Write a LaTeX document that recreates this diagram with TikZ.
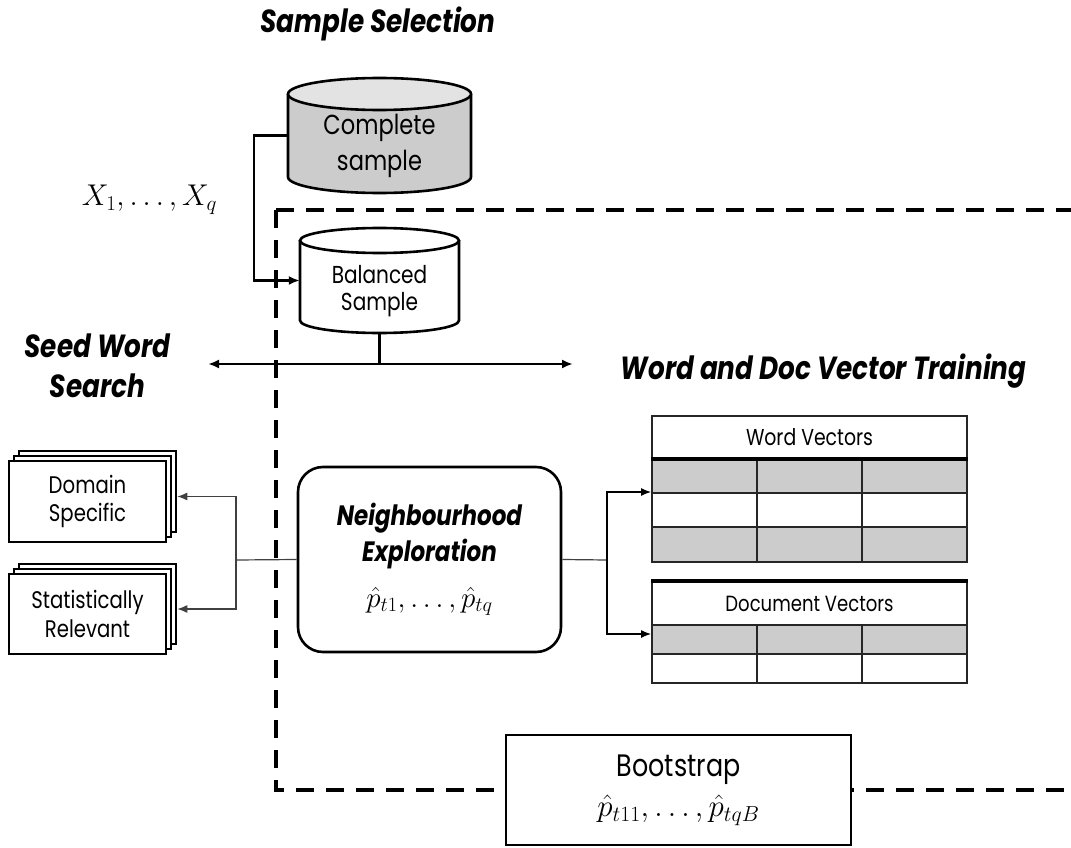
\RequirePackage{fix-cm}
\documentclass[tikz,border=0pt]{standalone}
\usepackage{amsmath}
\usepackage{fontspec}
\setmainfont{Poppins}[FakeStretch=0.82]
\usetikzlibrary{calc,arrows.meta}
\newcommand{\fsz}[1]{\fontsize{#1}{1.2\dimexpr#1pt\relax}\selectfont}

\begin{document}
\begin{tikzpicture}[x=1pt,y=-1pt,
    heading/.style={font=\fsz{32}\bfseries\itshape,align=center,inner sep=0pt},
    boxline/.style={draw,line width=2.6pt},
    stackbox/.style={boxline,fill=white,minimum width=157pt,minimum height=81pt,
      font=\fsz{24},align=center,inner sep=0pt},
    conn/.style={line width=2.6pt,-{Latex[length=11pt,width=9pt]}},
    thinconn/.style={line width=1.2pt,draw=black!75,-{Latex[length=10pt,width=8pt]}},
    cell/.style={line width=2pt,draw=black!85},
  ]
    \clip (0,0) rectangle (1071,848); % picture frame

    % dashed frame of the training stage
    \draw[line width=3.8pt,dash pattern=on 18pt off 12pt] (276,210) rectangle (1100,790);

    % complete sample
    \draw[boxline,fill=black!20] (288,94) -- (288,177) arc (180:0:91.5 and 16) -- (471,94);
    \draw[boxline,fill=black!11] (379.5,94) ellipse (91.5 and 16);
    \node[minimum width=183pt,minimum height=115pt] (cs) at (379.5,135.5) {};
    \node[align=center,font=\fsz{27.5}] (cst) at ($(cs)+(0,10.5)$) {Complete\\[3pt]sample};

    % balanced sample
    \draw[boxline,fill=white] (300,240.5) -- (300,320.5) arc (180:0:79.5 and 12.5) -- (459,240.5);
    \draw[boxline,fill=white] (379.5,240.5) ellipse (79.5 and 12.5);
    \node[minimum width=159pt,minimum height=105pt] (bs) at (379.5,280.5) {};
    \node[align=center,font=\fsz{24.5}] (bst) at ($(bs)+(0,10.5)$) {Balanced\\[-2pt]Sample};

    \node[heading] (sel) at (378,24) {Sample Selection};
    \node[font=\fsz{30}] (xs) at (149.5,200) {$X_1,\ldots,X_q$};
    \draw[conn] (cs.west) -- ++(-34,0) |- (bs.west);

    % split between the two stages
    \coordinate (sws) at (208,364);
    \coordinate (wdt) at (573,364);
    \draw[line width=2.6pt] (bs.south) -- (bs.south |- sws);
    \draw[line width=2.6pt,{Latex[length=11pt,width=9pt]}-{Latex[length=11pt,width=9pt]}] (sws) -- (wdt);
    \node[heading] (seed) at (97.5,366) {Seed Word\\[2pt]Search};
    \node[heading] (train) at (823.5,371) {Word and Doc Vector Training};

    % neighbourhood exploration
    \node[boxline,rounded corners=25pt,minimum width=263pt,minimum height=185pt,align=center,
      font=\fsz{28}\bfseries\itshape] (ne) at (429.5,559.5)
      {Neighbourhood\\[2pt]Exploration\\[12pt]\normalfont\fsz{29}$\hat{p}_{t1},\ldots,\hat{p}_{tq}$};

    % seed word lists
    \foreach \d in {10,5}{
      \draw[boxline,fill=white] (9+\d,461-\d) rectangle (166+\d,542-\d);
      \draw[boxline,fill=white] (9+\d,574-\d) rectangle (166+\d,654-\d);
    }
    \node[stackbox] (ds) at (87.5,501.5) {Domain\\Specific};
    \node[stackbox,minimum height=80pt] (sr) at (87.5,614) {Statistically\\Relevant};

    \coordinate (lsplit) at (236,560);
    \draw[line width=1.2pt,draw=black!75] (ne.west) -- (lsplit);
    \draw[thinconn] (lsplit) |- ($(ds.east)+(10,-5)$);
    \draw[thinconn] (lsplit) |- ($(sr.east)+(10,-5)$);

    % word vectors table
    \foreach \y/\f in {458/black!20,493/white,527/black!20}
      \foreach \x in {652,757,862}
        \draw[cell,fill=\f] (\x,\y) rectangle ++(105,34.5);
    \node[cell,minimum width=315pt,minimum height=42pt,font=\fsz{23}] (wv) at (809.5,437) {Word Vectors};
    \draw[line width=3.6pt] (wv.south west) -- (wv.south east);

    % document vectors table
    \foreach \y/\f in {625/black!20,654/white}
      \foreach \x in {652,757,862}
        \draw[cell,fill=\f] (\x,\y) rectangle ++(105,28.5);
    \node[cell,minimum width=315pt,minimum height=43pt,font=\fsz{22}] (dv) at (809.5,603.5) {Document Vectors};
    \draw[line width=3.6pt] (dv.north west) -- (dv.north east);

    \coordinate (rsplit) at (607,560);
    \draw[line width=1.2pt,draw=black!75] (ne.east) -- (rsplit);
    \draw[thinconn,draw=black] (rsplit) |- ($(wv.south west)+(0,33)$);
    \draw[thinconn,draw=black] (rsplit) |- ($(dv.south west)+(0,8)$);

    % bootstrap
    \node[boxline,fill=white,minimum width=345pt,minimum height=110pt,align=center,font=\fsz{31}] (bt)
      at (678.5,790) {Bootstrap\\[3pt]\fsz{31}$\hat{p}_{t11},\ldots,\hat{p}_{tqB}$};
\end{tikzpicture}
\end{document}
